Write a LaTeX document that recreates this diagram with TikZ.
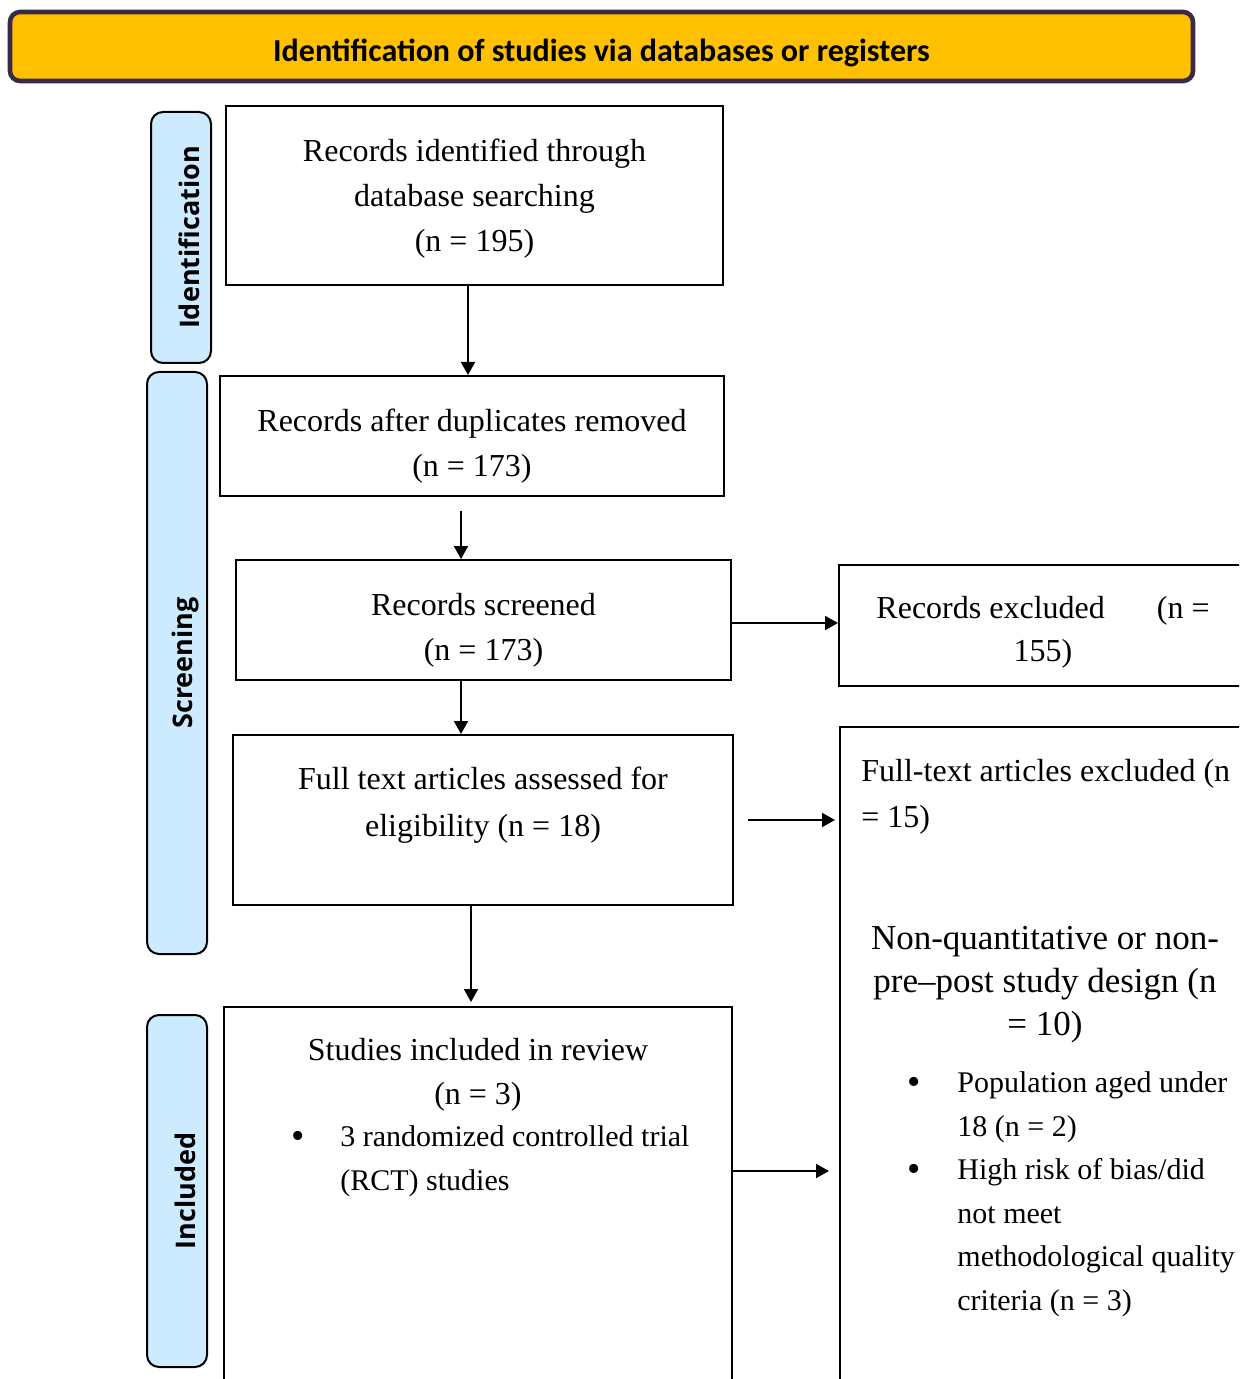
\documentclass[tikz,border=0pt]{standalone}
\usepackage{fontspec}
\setmainfont{Liberation Serif}
\newfontfamily\titlefont{Carlito}
\newfontfamily\sidefont{Open Sans}
\usetikzlibrary{arrows.meta}
\definecolor{banner}{HTML}{FFC000}
\definecolor{bannerline}{HTML}{3A2A48}
\definecolor{sidefill}{HTML}{CDEBFF}
\tikzset{
  box/.style={draw, line width=1pt, inner sep=0pt},
  sidebox/.style={draw, line width=1pt, fill=sidefill, rounded corners=6pt, inner sep=0pt, minimum width=30pt},
  sidetext/.style={font=\sidefont\bfseries\fontsize{13.5pt}{16pt}\selectfont, rotate=90, inner sep=0pt, yshift=-4pt},
  arr/.style={-{Triangle[length=6.5pt,width=7pt]}, line width=1pt},
  maintext/.style={font=\fontsize{16pt}{22.5pt}\selectfont, align=center, anchor=base, inner sep=0pt},
  lefttext/.style={font=\fontsize{16pt}{23pt}\selectfont, align=left, anchor=base west, inner sep=0pt},
  bigtext/.style={font=\fontsize{17.5pt}{21.5pt}\selectfont, align=center, anchor=base, inner sep=0pt},
  itemtext/.style={font=\fontsize{15pt}{21.7pt}\selectfont, align=left, anchor=base west, inner sep=0pt},
  bullet/.style={font=\fontsize{19pt}{21.7pt}\selectfont, anchor=base, inner sep=0pt}
}
\begin{document}
\begin{tikzpicture}[x=0.5pt,y=-0.5pt]
\useasboundingbox (0,0) rectangle (1239,1379);
\fill[white] (0,0) rectangle (1239,1379);
\clip (0,0) rectangle (1239,1379);

% banner
\node[draw=bannerline, line width=2.3pt, fill=banner, rounded corners=5pt, minimum width=591.5pt, minimum height=34.5pt, inner sep=0pt] (ban) at (601.5,46.5) {};
\node[font=\titlefont\bfseries\fontsize{16pt}{19pt}\selectfont, anchor=base, inner sep=0pt] (bant) at (601.5,62) {Identification of studies via databases or registers};

% side labels
\node[sidebox, minimum height=125.5pt] (sI) at (181,237.5) {};
\node[sidetext] (sIt) at (sI.center) {Identification};
\node[sidebox, minimum height=291pt] (sS) at (177,663) {};
\node[sidetext] (sSt) at (sS.center) {Screening};
\node[sidebox, minimum height=176pt] (sN) at (177,1191) {};
\node[sidetext] (sNt) at (sN.center) {Included};

% boxes
\node[box, minimum width=248.5pt, minimum height=89.5pt] (b1) at (474.5,195.5) {};
\node[box, minimum width=252pt, minimum height=60pt] (b2) at (472,436) {};
\node[box, minimum width=247.5pt, minimum height=60pt] (b3) at (483.5,620) {};
\node[box, minimum width=210.5pt, minimum height=60.5pt] (b4) at (1049.5,625.5) {};
\node[box, minimum width=250pt, minimum height=85pt] (b5) at (483,820) {};
\node[box, minimum width=210pt, minimum height=336.5pt] (b6) at (1050,1063.5) {};
\node[box, minimum width=254pt, minimum height=196.5pt] (b7) at (478,1203.5) {};

% texts (anchored at the baseline of the last line)
\node[maintext] (t1) at (474.5,252) {Records identified through\\database searching\\(n = 195)};
\node[maintext] (t2) at (472,476) {Records after duplicates removed\\(n = 173)};
\node[maintext] (t3) at (483.5,660) {Records screened\\(n = 173)};
\node[maintext, font=\fontsize{16pt}{21.5pt}\selectfont] (t4) at (1043,661) {Records excluded\hspace{26pt}(n =\\155)};
\node[maintext, font=\fontsize{16pt}{23.5pt}\selectfont] (t5) at (483,836) {Full text articles assessed for\\eligibility (n = 18)};
\node[lefttext] (t6) at (861,827) {Full-text articles excluded (n\\= 15)};
\node[bigtext] (t6b) at (1045,1035) {Non-quantitative or non-\\pre–post study design (n\\= 10)};
\node[bullet] (d1) at (914,1094) {•};
\node[itemtext] (i1) at (957,1136) {Population aged under\\18 (n = 2)};
\node[bullet] (d2) at (914,1181) {•};
\node[itemtext] (i2) at (957,1310) {High risk of bias/did\\not meet\\methodological quality\\criteria (n = 3)};
\node[maintext, font=\fontsize{16pt}{22pt}\selectfont] (t7) at (478,1104) {Studies included in review\\(n = 3)};
\node[bullet] (d3) at (298,1148) {•};
\node[itemtext] (i3) at (340,1190) {3 randomized controlled trial\\(RCT) studies};

% connectors
\coordinate (x1) at (468,0);
\draw[arr] (b1.south -| x1) -- (b2.north -| x1);
\coordinate (a2s) at (461,511);
\draw[arr] (a2s) -- (b3.north -| a2s);
\coordinate (y3) at (0,623);
\draw[arr] (b3.east |- y3) -- (b4.west |- y3);
\coordinate (x4) at (461,0);
\draw[arr] (b3.south -| x4) -- (b5.north -| x4);
\coordinate (a5s) at (748,820);
\draw[arr, shorten >=2pt] (a5s) -- (b6.west |- a5s);
\coordinate (x6) at (471,0);
\draw[arr, shorten >=2pt] (b5.south -| x6) -- (b7.north -| x6);
\coordinate (y7) at (0,1171);
\draw[arr, shorten >=5pt] (b7.east |- y7) -- (b6.west |- y7);
\end{tikzpicture}
\end{document}
